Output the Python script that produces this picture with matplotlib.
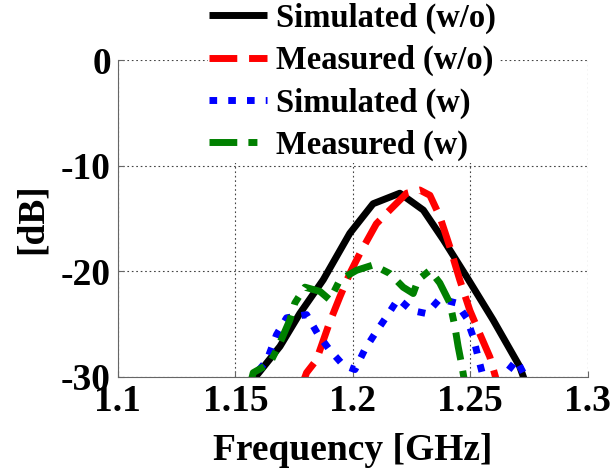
import matplotlib
matplotlib.use('Agg')
import matplotlib.pyplot as plt

# (GHz, dB)
f_sim_wo = [1.155, 1.160, 1.169, 1.1774, 1.1874, 1.1987, 1.2086, 1.220, 1.230, 1.2385, 1.2484, 1.2597, 1.271, 1.275]
db_sim_wo = [-31, -29.6, -27.1, -24.0, -20.8, -16.4, -13.6, -12.6, -14.2, -17.0, -20.5, -24.6, -29.0, -31.5]

f_meas_wo = [1.178, 1.1803, 1.1845, 1.190, 1.1945, 1.1987, 1.203, 1.210, 1.2157, 1.2229, 1.2285,
             1.2328, 1.237, 1.2413, 1.2455, 1.2498, 1.254, 1.2583, 1.262]
db_meas_wo = [-31, -29.6, -28.4, -24.9, -22.4, -20.2, -18.3, -15.5, -14.2, -12.6, -12.3,
              -12.8, -14.8, -17.7, -20.8, -23.7, -25.9, -28.1, -31]

f_sim_w = [1.157, 1.159, 1.1633, 1.1675, 1.1718, 1.1803, 1.185, 1.190, 1.196, 1.2009, 1.2051, 1.2094,
           1.2143, 1.2193, 1.225, 1.2314, 1.237, 1.2441, 1.2484, 1.2512, 1.2533, 1.2555, 1.258,
           1.263, 1.2654, 1.2697, 1.2725, 1.275]
db_sim_w = [-31, -29.6, -28.5, -26.0, -24.4, -24.1, -25.9, -27.4, -28.9, -29.3, -27.4, -25.9,
            -24.3, -22.6, -23.7, -24.0, -22.6, -23.0, -24.4, -26.2, -28.1, -30, -31,
            -31, -29.6, -28.4, -29.6, -31]

f_meas_w = [1.156, 1.1576, 1.1647, 1.1689, 1.1732, 1.1753, 1.1796, 1.186, 1.1902, 1.1945, 1.2016,
            1.2086, 1.2157, 1.2214, 1.2257, 1.2278, 1.2328, 1.237, 1.2413, 1.2434, 1.2448, 1.2462, 1.248]
db_meas_w = [-31, -29.6, -28.7, -26.8, -24.6, -23.0, -21.5, -21.9, -22.7, -20.8, -19.9,
             -19.4, -20.2, -21.5, -22.1, -20.8, -19.9, -21.1, -23.0, -25.2, -27.1, -28.7, -31]

labels = ['Simulated (w/o)', 'Measured (w/o)', 'Simulated (w)', 'Measured (w)']
xticks = [1.1, 1.15, 1.2, 1.25, 1.3]
xtick_labels = ['1.1', '1.15', '1.2', '1.25', '1.3']
yticks = [-30, -20, -10, 0]

plt.rcParams['font.family'] = 'Liberation Serif'
plt.rcParams['font.weight'] = 'bold'
plt.rcParams['axes.unicode_minus'] = False

fig = plt.figure(figsize=(6.11, 4.70), dpi=100)
ax = fig.add_axes([0.193, 0.198, 0.769, 0.674])

lw = 5
ax.plot(f_sim_wo, db_sim_wo, color='black', lw=lw, solid_capstyle='butt', label=labels[0])
ax.plot(f_meas_wo, db_meas_wo, color='red', lw=lw, dashes=(4, 1.7), dash_capstyle='butt', label=labels[1])
ax.plot(f_sim_w, db_sim_w, color='blue', lw=lw, dashes=(1.1, 1.6), dash_capstyle='butt', label=labels[2])
ax.plot(f_meas_w, db_meas_w, color='green', lw=lw, dashes=(4, 1.6, 1.3, 1.6), dash_capstyle='butt',
        label=labels[3])

ax.set_xlim(1.1, 1.3)
ax.set_ylim(-30, 0)
ax.set_xticks(xticks)
ax.set_xticklabels(xtick_labels)
ax.set_yticks(yticks)
ax.grid(True, linestyle=(0, (1.5, 2.5)), color='#444444', linewidth=0.8)
for side in ['top', 'right']:
    ax.spines[side].set_visible(False)
for side in ['left', 'bottom']:
    ax.spines[side].set_color('#666666')
ax.tick_params(direction='in', length=4, color='#666666', labelsize=27, pad=5)
ax.set_xlabel('Frequency [GHz]', fontsize=27, fontweight='bold', labelpad=10)
ax.set_ylabel('[dB]', fontsize=27, fontweight='bold', labelpad=8)

# legend sits on top of the plot, white box without edge
leg = fig.legend(loc='upper left', bbox_to_anchor=(0.313, 1.032), fontsize=23.5, frameon=True,
                 edgecolor='none', facecolor='white', framealpha=1, handlelength=1.76,
                 handletextpad=0.3, labelspacing=0.34, borderpad=0.05)
leg.set_zorder(5)

fig.savefig('out.png', dpi=100)
